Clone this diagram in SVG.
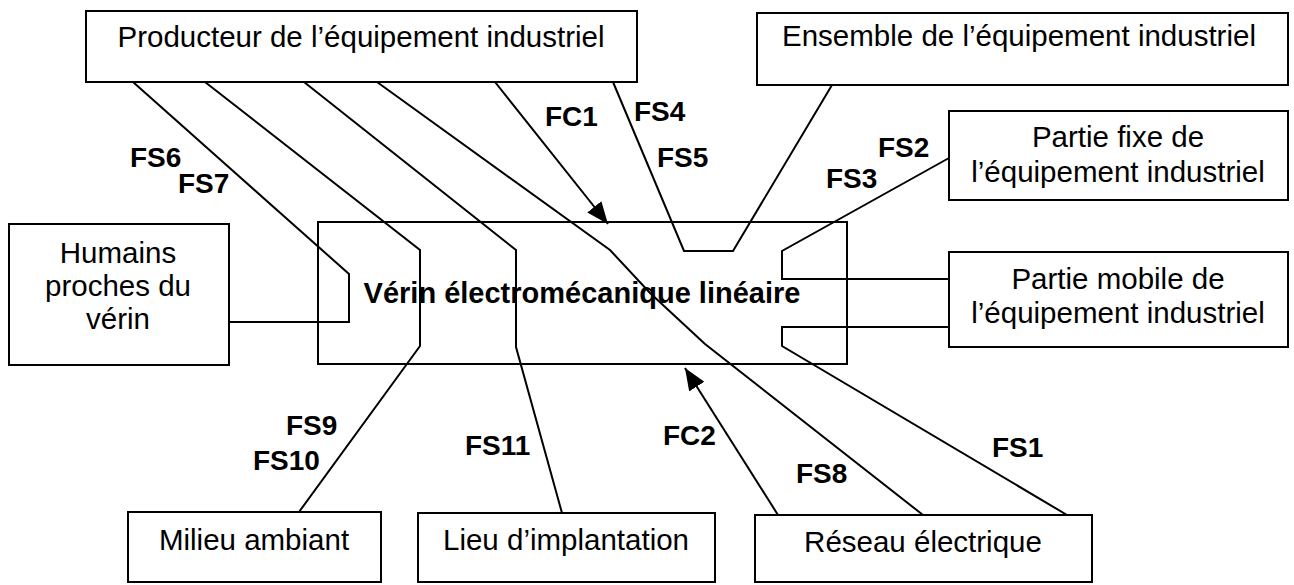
<svg xmlns="http://www.w3.org/2000/svg" width="1294" height="585" viewBox="0 0 1294 585">
<style>
.box{fill:#fff;stroke:#000;stroke-width:2}
.t{font-family:"Liberation Sans",Arial,sans-serif;font-size:29.5px;fill:#000;text-anchor:middle}
.m{font-family:"Liberation Sans",Arial,sans-serif;font-size:29px;font-weight:bold;fill:#000;text-anchor:middle}
.l{font-family:"Liberation Sans",Arial,sans-serif;font-size:28px;font-weight:bold;fill:#000}
.c{fill:none;stroke:#000;stroke-width:2;stroke-linejoin:miter}
</style>
<defs>
<marker id="ah" markerUnits="userSpaceOnUse" markerWidth="24" markerHeight="18" refX="22" refY="9" orient="auto">
<path d="M0,0 L22,9 L0,18 z" fill="#000"/>
</marker>
</defs>
<rect width="1294" height="585" fill="#fff"/>
<g id="n-main"><rect class="box" x="318" y="222" width="529" height="142"/><text class="m" x="582" y="303">Vérin électromécanique linéaire</text></g>
<g id="n-producteur"><rect class="box" x="86" y="11" width="551" height="71"/><text class="t" x="361" y="47">Producteur de l’équipement industriel</text></g>
<g id="n-ensemble"><rect class="box" x="757" y="13" width="531" height="72"/><text class="t" x="1019" y="46">Ensemble de l’équipement industriel</text></g>
<g id="n-fixe"><rect class="box" x="949" y="111" width="339" height="89"/><text class="t" x="1118" y="147">Partie fixe de</text><text class="t" x="1118" y="182">l’équipement industriel</text></g>
<g id="n-mobile"><rect class="box" x="949" y="252" width="339" height="95"/><text class="t" x="1118" y="289">Partie mobile de</text><text class="t" x="1118" y="323">l’équipement industriel</text></g>
<g id="n-humains"><rect class="box" x="9" y="224" width="220" height="141"/><text class="t" x="118" y="263">Humains</text><text class="t" x="118" y="296">proches du</text><text class="t" x="118" y="329">vérin</text></g>
<g id="n-milieu"><rect class="box" x="128" y="512" width="253" height="70"/><text class="t" x="254" y="550">Milieu ambiant</text></g>
<g id="n-lieu"><rect class="box" x="418" y="513" width="297" height="69"/><text class="t" x="566" y="550">Lieu d’implantation</text></g>
<g id="n-reseau"><rect class="box" x="755" y="515" width="337" height="67"/><text class="t" x="923" y="552">Réseau électrique</text></g>
<g id="connectors">
<polyline class="c" points="133,82 349,274 349,322 229,322"/>
<polyline class="c" points="205,82 420,250 420,346 299,512"/>
<polyline class="c" points="304,82 516,250 516,347 562,513"/>
<polyline class="c" points="377,82 610,250 650,293 705,344 923,515"/>
<line class="c" x1="495" y1="82" x2="608" y2="224" marker-end="url(#ah)"/>
<polyline class="c" points="613,82 684,251 733,251 832,85"/>
<polyline class="c" points="949,158 782,251 782,279 949,279"/>
<polyline class="c" points="949,327 782,327 782,346 1067,515"/>
<line class="c" x1="778" y1="515" x2="685" y2="368" marker-end="url(#ah)"/>
</g>
<g id="labels">
<text class="l" x="130" y="167">FS6</text>
<text class="l" x="178" y="193">FS7</text>
<text class="l" x="545" y="126">FC1</text>
<text class="l" x="634" y="121">FS4</text>
<text class="l" x="657" y="167">FS5</text>
<text class="l" x="878" y="157">FS2</text>
<text class="l" x="826" y="188">FS3</text>
<text class="l" x="286" y="435">FS9</text>
<text class="l" x="253" y="470">FS10</text>
<text class="l" x="465" y="455">FS11</text>
<text class="l" x="663" y="445">FC2</text>
<text class="l" x="796" y="483">FS8</text>
<text class="l" x="992" y="457">FS1</text>
</g>
</svg>
